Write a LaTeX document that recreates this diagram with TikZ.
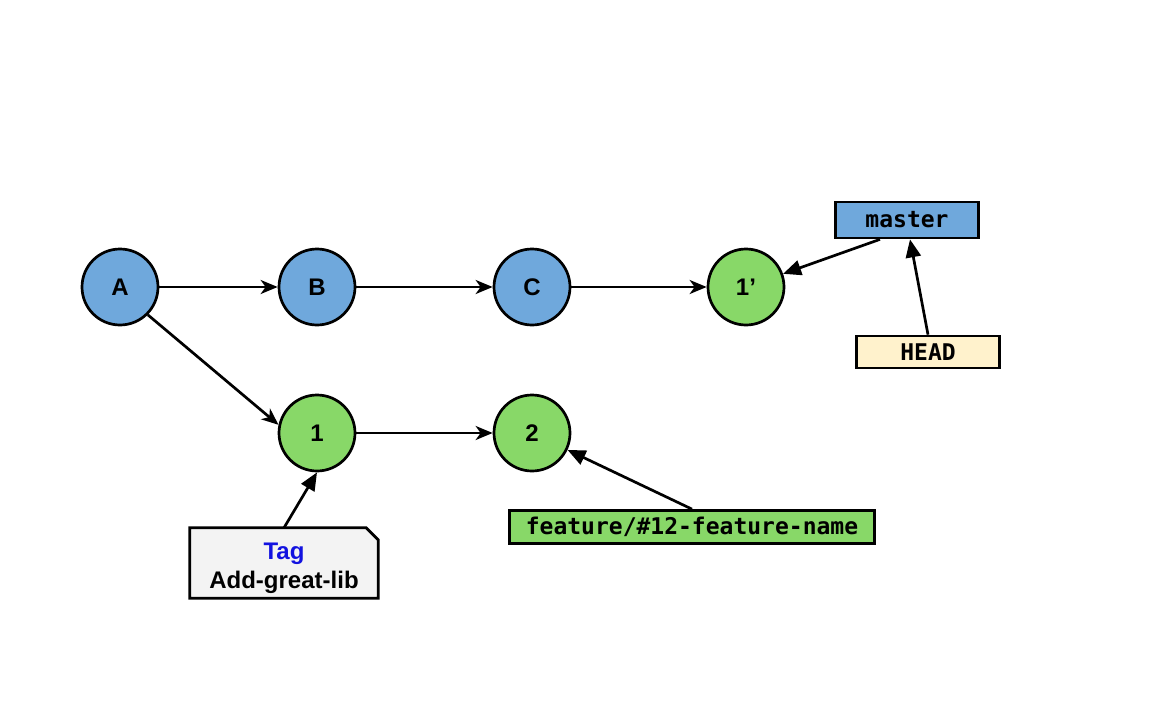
\documentclass[tikz,border=0pt]{standalone}
\usepackage{fontspec}
\setmainfont{Liberation Sans}
\setmonofont{DejaVu Sans Mono}
\usepackage{tikz}
\usetikzlibrary{arrows.meta}
\usetikzlibrary{backgrounds}
\definecolor{azul}{HTML}{6FA8DC}
\definecolor{verde}{HTML}{88D868}
\definecolor{crema}{HTML}{FFF2CC}
\definecolor{gris}{HTML}{F3F3F3}
\definecolor{azultag}{HTML}{1212E0}
\tikzstyle{commit}=[circle, draw, line width=2.7pt, minimum size=76pt, inner sep=0pt, font=\fontsize{24}{28}\selectfont\bfseries]
\tikzstyle{rama}=[draw, line width=2.7pt, inner sep=0pt, font=\fontsize{23}{28}\selectfont\ttfamily\bfseries]
\tikzstyle{flecha}=[line width=2.7pt, -{Stealth[length=17pt, width=14pt, inset=5pt]}]
\tikzstyle{puntero}=[line width=2.7pt, -{Triangle[length=18pt, width=15pt]}]

\begin{document}
\begin{tikzpicture}[x=1pt, y=-1pt]
        \useasboundingbox (0,0) rectangle (1160,720);
        % commits
        \node[commit, fill=azul] (A) at (120, 287) {A};
        \node[commit, fill=azul] (B) at (317, 287) {B};
        \node[commit, fill=azul] (C) at (532, 287) {C};
        \node[commit, fill=verde] (1p) at (746, 287) {1’};
        \node[commit, fill=verde] (1) at (317, 433) {1};
        \node[commit, fill=verde] (2) at (532, 433) {2};

        % ramas
        \node[rama, fill=azul, minimum width=143pt, minimum height=36pt] (master) at (907, 220) {master};
        \node[rama, fill=crema, minimum width=143pt, minimum height=32pt] (head) at (928, 352) {HEAD};
        \node[rama, fill=verde, minimum width=365pt, minimum height=33pt] (feature) at (692, 527) {feature/\#12-feature-name};

        % tag
        \node[minimum width=188pt, minimum height=70pt, inner sep=0pt] (tag) at (284, 563) {};
        \node[align=center, inner sep=0pt, font=\fontsize{24}{29}\selectfont\bfseries] (tagtexto) at (284, 568) {\textcolor{azultag}{Tag}\\Add-great-lib};
        \begin{scope}[on background layer]
        \draw[line width=2.7pt, fill=gris, line join=miter] (tag.south west) -- (tag.north west) -- ([xshift=-12pt]tag.north east) -- ([yshift=-12pt]tag.north east) -- (tag.south east) -- cycle;
        \end{scope}

        % aristas
        \draw[flecha] (A) -- (B);
        \draw[flecha] (B) -- (C);
        \draw[flecha] (C) -- (1p);
        \draw[flecha] (A.-45) -- (1.168);
        \draw[flecha] (1) -- (2);

        % punteros
        \draw[puntero] ([xshift=-27pt]master.south) -- (1p);
        \draw[puntero] (head.north) -- ([xshift=3pt]master.south);
        \draw[puntero] (feature.north) -- (2);
        \draw[puntero] (tag.north) -- (1.south);
    \end{tikzpicture}
\end{document}
